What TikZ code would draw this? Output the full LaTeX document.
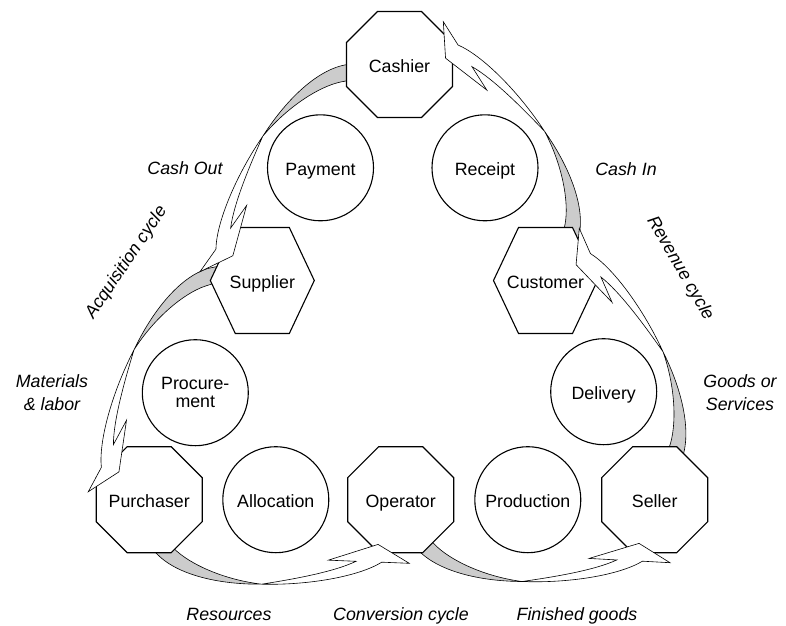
\documentclass[tikz,border=0pt]{standalone}
\usepackage{fontspec}
\setmainfont{Liberation Sans}
\usetikzlibrary{calc}
\pgfdeclarelayer{ribbonback}
\pgfdeclarelayer{shapelayer}
\pgfsetlayers{ribbonback,shapelayer,main}
\newcommand{\bodyfont}{\fontsize{17.8}{23}\selectfont}
\newcommand{\octshape}[1]{\draw[shapeline] (#1) +(-22,-53) -- +(22,-53) -- +(53,-22) -- +(53,22) -- +(22,53) -- +(-22,53) -- +(-53,22) -- +(-53,-22) -- cycle;}
\newcommand{\hexshape}[1]{\draw[shapeline] (#1) +(-52,0) -- +(-27,-53) -- +(27,-53) -- +(52,0) -- +(27,53) -- +(-27,53) -- cycle;}
\newcommand{\ribbon}[2]{%
  \begin{pgfonlayer}{ribbonback}
    \begin{scope}[shift={#1},rotate=#2]
      \filldraw[graypart] (-243,-17.6) -- (-236,-10.6) .. controls (-220,5) and (-185,20) .. (-147.3,23.7)
        .. controls (-195,25) and (-240,14) .. (-257.6,-10.6) -- (-263.4,-18.7) -- cycle;
    \end{scope}
  \end{pgfonlayer}
  \begin{scope}[shift={#1},rotate=#2]
    \filldraw[whitepart] (-147.3,23.7) .. controls (-100,24) and (-50,14) .. (-27.6,-0.6) -- (0,0)
      -- (-31.6,-18.3) -- (-81,-1.6) -- (-53.3,-1) .. controls (-75,10) and (-115,18) .. (-147.3,23.7) -- cycle;
  \end{scope}}
\tikzset{
  shapeline/.style={draw=black, fill=white, line width=1.1pt, line join=miter},
  circnode/.style={circle, draw=black, fill=white, line width=1.1pt, minimum size=106pt, inner sep=0pt},
  txt/.style={inner sep=0pt, text height=15.6pt, text depth=0pt},
  lbl/.style={inner sep=0pt, font=\bodyfont\itshape},
  graypart/.style={fill=black!20, draw=black, line width=0.6pt, line join=round},
  whitepart/.style={fill=white, draw=black, line width=0.6pt, line join=miter},
}
\begin{document}
\begin{tikzpicture}[x=1pt,y=-1pt,font=\bodyfont]
\useasboundingbox (0,0) rectangle (786,625);
% agents (octagons and hexagons)
\node[txt] (cashier) at (399.5,64.5) {Cashier};
\node[txt] (purchaser) at (149.2,499.7) {Purchaser};
\node[txt] (operator) at (400.7,499.7) {Operator};
\node[txt] (seller) at (654.7,499.7) {Seller};
\node[txt] (supplier) at (262.3,280.5) {Supplier};
\node[txt] (customer) at (545.5,280.5) {Customer};
\begin{pgfonlayer}{shapelayer}
  \octshape{cashier.center}
  \octshape{purchaser.center}
  \octshape{operator.center}
  \octshape{seller.center}
  \hexshape{supplier.center}
  \hexshape{customer.center}
\end{pgfonlayer}
% events (circles)
\node[circnode,txt] (payment) at (320.5,167.8) {Payment};
\node[circnode,txt] (receipt) at (485,167.8) {Receipt};
\node[circnode,align=center,font=\fontsize{17.8}{18}\selectfont] (procurement) at (195.3,392.7) {Procure-\\ment};
\node[circnode,txt] (delivery) at (603.7,391.7) {Delivery};
\node[circnode,txt] (allocation) at (275.8,499.7) {Allocation};
\node[circnode,txt] (production) at (527.8,499.7) {Production};
% ribbon arrows
\ribbon{($(supplier.center)+(-62.3,-8.8)$)}{236}
\ribbon{($(purchaser.center)+(-60.9,-8)$)}{243}
\ribbon{($(operator.center)+(8.6,63.6)$)}{-1.1}
\ribbon{($(seller.center)+(15.3,63)$)}{-1.9}
\ribbon{($(customer.center)+(33.8,-52.2)$)}{115}
\ribbon{($(cashier.center)+(43.8,-42.8)$)}{123.6}
% labels
\node[lbl,txt] (cashout) at (185,167) {Cash Out};
\node[lbl,txt] (cashin) at (626,167.2) {Cash In};
\node[lbl,rotate=56] (acq) at (126.5,262.5) {Acquisition cycle};
\node[lbl,rotate=-60] (rev) at (680,268.5) {Revenue cycle};
\node[lbl,align=center] (matlab) at (52,392.7) {Materials\\\& labor};
\node[lbl,align=center] (goods) at (740,392.7) {Goods or\\Services};
\node[lbl,txt] (resources) at (229,613) {Resources};
\node[lbl,txt] (conversion) at (401,613) {Conversion cycle};
\node[lbl,txt] (finished) at (577,613) {Finished goods};
\end{tikzpicture}
\end{document}
